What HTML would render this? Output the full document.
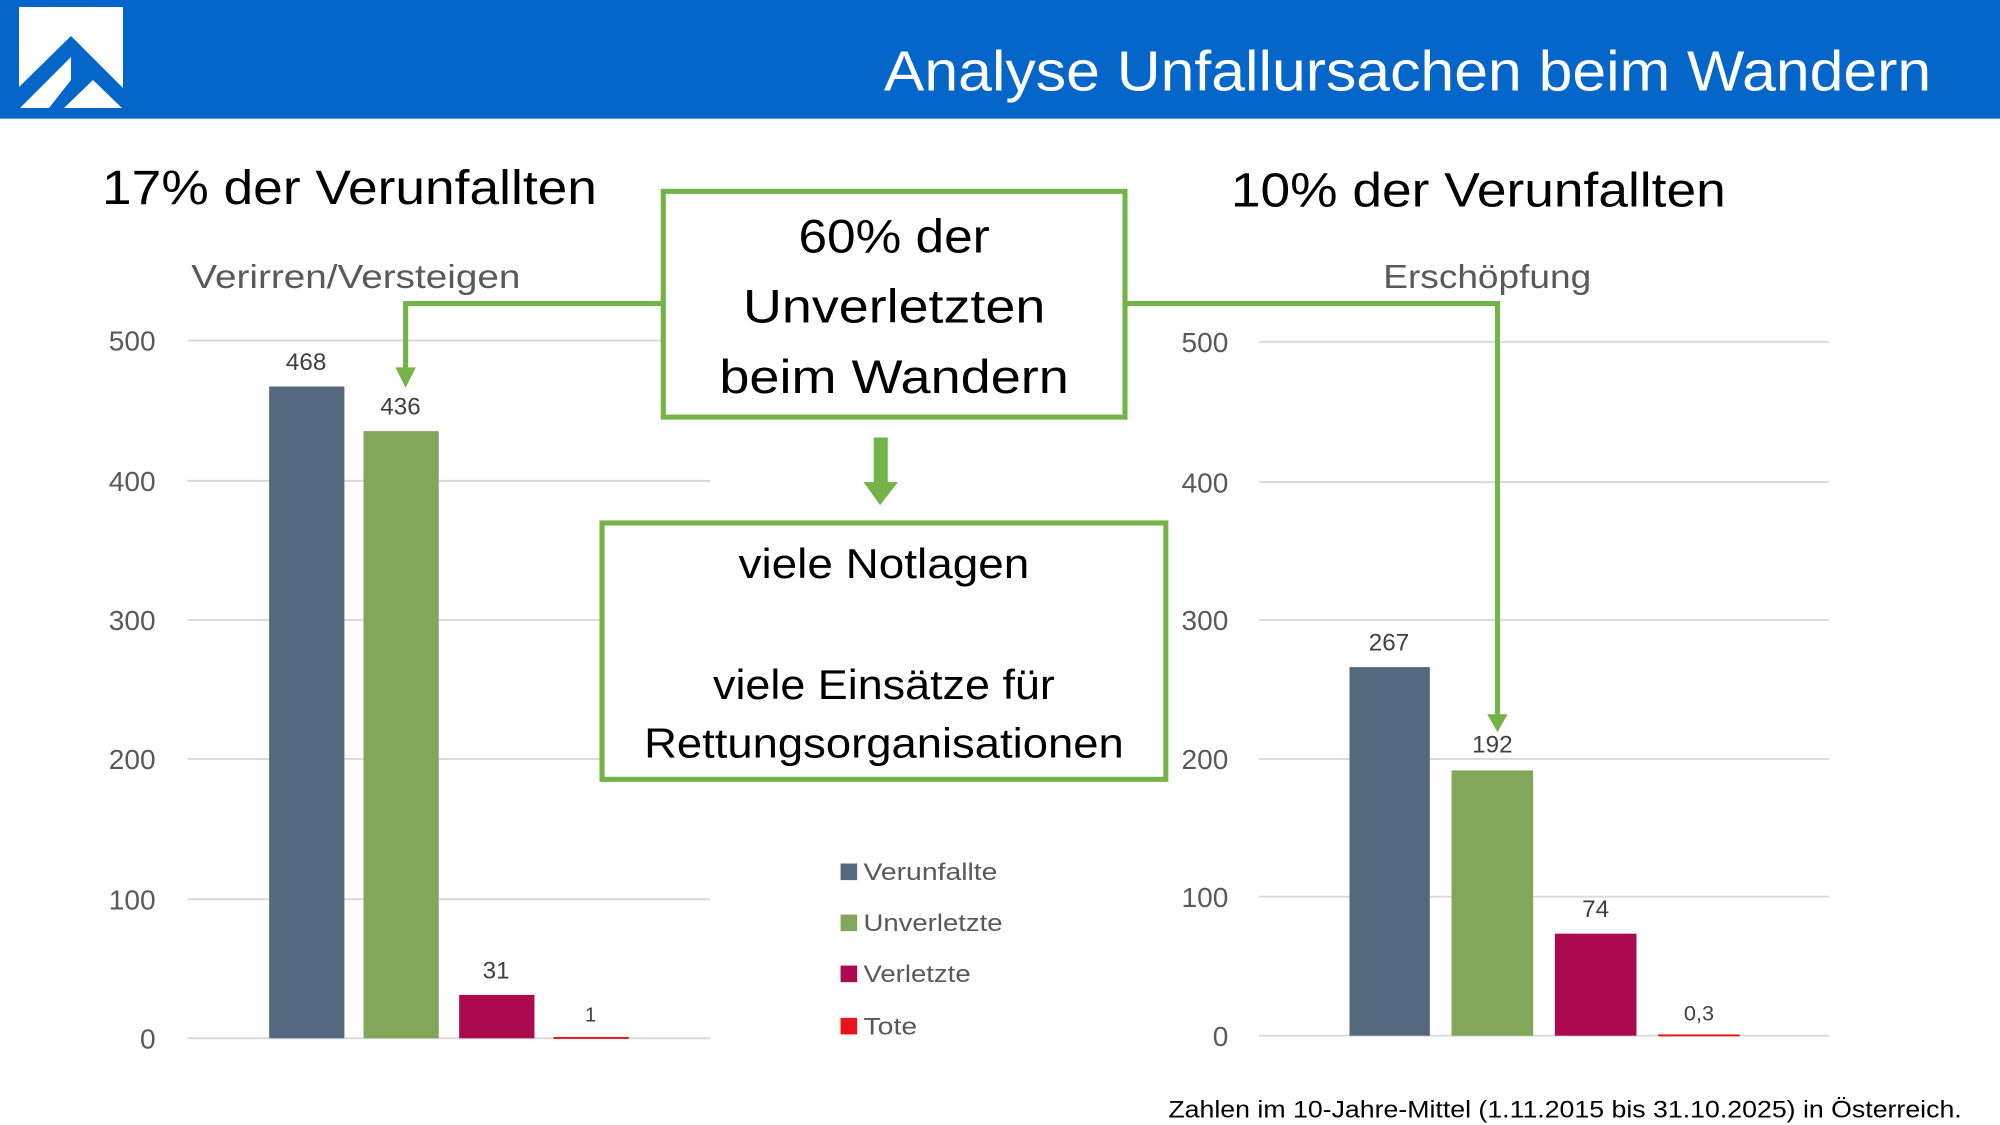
<!DOCTYPE html>
<html><head><meta charset="utf-8"><style>
html,body{margin:0;padding:0;background:#fff;overflow:hidden}
svg{display:block}
text{font-family:"Liberation Sans","DejaVu Sans",sans-serif}
</style></head><body>
<svg width="2000" height="1125" viewBox="0 0 1568 882" xmlns="http://www.w3.org/2000/svg">
<rect x="0" y="0" width="1568" height="93" fill="#0466c8"/>
<g transform="scale(0.784)">
<rect x="19" y="7" width="104" height="102" fill="#fff"/>
<polygon points="19,87 71,36 123,88 123,109 19,109" fill="#0466c8"/>
<polygon points="20,108 71,57 71,80 49,108" fill="#fff"/>
<polygon points="64,108 93,80 122,108" fill="#fff"/>
</g>
<text x="1514" y="71" text-anchor="end" font-size="44" fill="#fff" textLength="821" lengthAdjust="spacingAndGlyphs">Analyse Unfallursachen beim Wandern</text>

<text x="80" y="160" font-size="38" fill="#000" textLength="388" lengthAdjust="spacingAndGlyphs">17% der Verunfallten</text>
<text x="965" y="162" font-size="38" fill="#000" textLength="388" lengthAdjust="spacingAndGlyphs">10% der Verunfallten</text>
<text x="279" y="226" text-anchor="middle" font-size="26" fill="#595959" textLength="258" lengthAdjust="spacingAndGlyphs">Verirren/Versteigen</text>
<text x="1166" y="226" text-anchor="middle" font-size="26" fill="#595959" textLength="163" lengthAdjust="spacingAndGlyphs">Erschöpfung</text>

<g stroke="#d9d9d9" stroke-width="1.5">
<line x1="147" x2="557" y1="267" y2="267"/><line x1="147" x2="557" y1="377" y2="377"/>
<line x1="147" x2="557" y1="486" y2="486"/><line x1="147" x2="557" y1="595" y2="595"/>
<line x1="147" x2="557" y1="705" y2="705"/><line x1="147" x2="557" y1="814" y2="814"/>
<line x1="987" x2="1434" y1="268" y2="268"/><line x1="987" x2="1434" y1="378" y2="378"/>
<line x1="987" x2="1434" y1="486" y2="486"/><line x1="987" x2="1434" y1="595" y2="595"/>
<line x1="987" x2="1434" y1="703" y2="703"/><line x1="987" x2="1434" y1="812" y2="812"/>
</g>
<g font-size="22" fill="#595959" text-anchor="end">
<text x="122" y="275">500</text><text x="122" y="385">400</text><text x="122" y="494">300</text>
<text x="122" y="603">200</text><text x="122" y="713">100</text><text x="122" y="822">0</text>
<text x="963" y="276">500</text><text x="963" y="386">400</text><text x="963" y="494">300</text>
<text x="963" y="603">200</text><text x="963" y="711">100</text><text x="963" y="820">0</text>
</g>

<rect x="211" y="303" width="59" height="511" fill="#56687d"/>
<rect x="285" y="338" width="59" height="476" fill="#82a75b"/>
<rect x="360" y="780" width="59" height="34" fill="#ab0a4e"/>
<rect x="434" y="813" width="59" height="1.5" fill="#e8141a"/>
<rect x="1058" y="523" width="63" height="289" fill="#56687d"/>
<rect x="1138" y="604" width="64" height="208" fill="#82a75b"/>
<rect x="1219" y="732" width="64" height="80" fill="#ab0a4e"/>
<rect x="1300" y="811" width="64" height="1.5" fill="#e8141a"/>
<g font-size="19" fill="#404040" text-anchor="middle">
<text x="240" y="290">468</text><text x="314" y="325">436</text><text x="389" y="767">31</text><text x="463" y="801" font-size="16">1</text>
<text x="1089" y="510">267</text><text x="1170" y="590">192</text><text x="1251" y="719">74</text><text x="1332" y="800" font-size="17">0,3</text>
</g>

<g stroke="#74b347" stroke-width="4" fill="none">
<polyline points="519,238 318,238 318,290"/>
<polyline points="883,238 1174,238 1174,562"/>
</g>
<polygon points="310,288 326,288 318,304" fill="#74b347"/>
<polygon points="1166,560 1182,560 1174,574" fill="#74b347"/>
<rect x="520" y="150" width="362" height="177" fill="#fff" stroke="#74b347" stroke-width="4"/>
<g font-size="37" fill="#000" text-anchor="middle">
<text x="701" y="198" textLength="150" lengthAdjust="spacingAndGlyphs">60% der</text>
<text x="701" y="253" textLength="237" lengthAdjust="spacingAndGlyphs">Unverletzten</text>
<text x="701" y="308" textLength="274" lengthAdjust="spacingAndGlyphs">beim Wandern</text>
</g>
<rect x="685" y="343" width="11" height="36" fill="#74b347"/>
<polygon points="677,378 704,378 690,396" fill="#74b347"/>
<rect x="472" y="410" width="442" height="201" fill="#fff" stroke="#74b347" stroke-width="4"/>
<g font-size="33" fill="#000" text-anchor="middle">
<text x="693" y="453" textLength="228" lengthAdjust="spacingAndGlyphs">viele Notlagen</text>
<text x="693" y="548" textLength="268" lengthAdjust="spacingAndGlyphs">viele Einsätze für</text>
<text x="693" y="594" textLength="376" lengthAdjust="spacingAndGlyphs">Rettungsorganisationen</text>
</g>

<rect x="659" y="677" width="13" height="13" fill="#56687d"/>
<rect x="659" y="717" width="13" height="13" fill="#82a75b"/>
<rect x="659" y="757" width="13" height="13" fill="#ab0a4e"/>
<rect x="659" y="798" width="13" height="13" fill="#e8141a"/>
<g font-size="19" fill="#595959">
<text x="677" y="690" textLength="105" lengthAdjust="spacingAndGlyphs">Verunfallte</text>
<text x="677" y="730" textLength="109" lengthAdjust="spacingAndGlyphs">Unverletzte</text>
<text x="677" y="770" textLength="84" lengthAdjust="spacingAndGlyphs">Verletzte</text>
<text x="677" y="811" textLength="42" lengthAdjust="spacingAndGlyphs">Tote</text>
</g>
<text x="1538" y="876" text-anchor="end" font-size="19" fill="#000" textLength="622" lengthAdjust="spacingAndGlyphs">Zahlen im 10-Jahre-Mittel (1.11.2015 bis 31.10.2025) in Österreich.</text>
</svg>
</body></html>
